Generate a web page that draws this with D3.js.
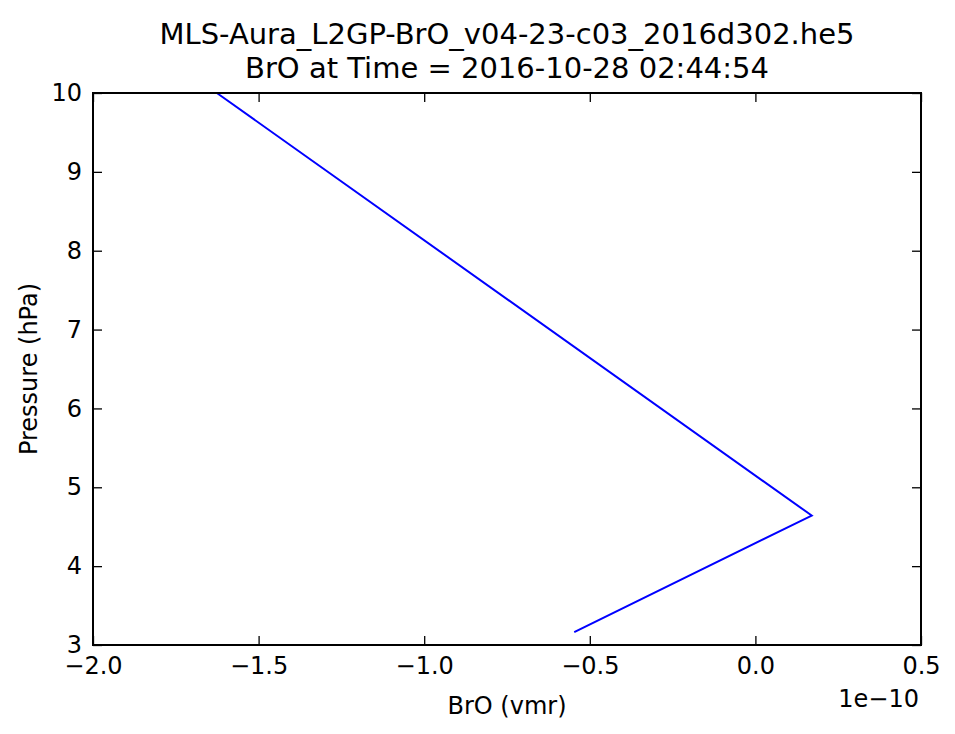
<!DOCTYPE html>
<html>
<head>
<meta charset="utf-8">
<script src="https://d3js.org/d3.v7.min.js"></script>
<style>
  body { margin: 0; background: #fff; }
  svg text { font-family: "DejaVu Sans", sans-serif; fill: #000; }
</style>
</head>
<body>
<div id="chart"></div>
<script>
// data
var pressure = [10, 4.6416, 3.1623];             // hPa
var bro = [-1.626e-10, 0.170e-10, -0.547e-10];   // vmr
var xTicks = [-2.0, -1.5, -1.0, -0.5, 0.0, 0.5]; // x 1e-10
var yTicks = [3, 4, 5, 6, 7, 8, 9, 10];
var titleLines = ["MLS-Aura_L2GP-BrO_v04-23-c03_2016d302.he5", "BrO at Time = 2016-10-28 02:44:54"];

var width = 955, height = 734;
var margin = {left: 93, right: 34, top: 93, bottom: 89};
var fs = 24;

var svg = d3.select('#chart')
  .append('svg')
  .attr('width', width)
  .attr('height', height);

var x_scale = d3.scaleLinear()
  .domain([-2.0e-10, 0.5e-10])
  .range([margin.left, width - margin.right]);

var y_scale = d3.scaleLinear()
  .domain([3, 10])
  .range([height - margin.bottom, margin.top]);

// the profile line
var line = d3.line()
  .x((d) => x_scale(d[0]))
  .y((d) => y_scale(d[1]));

var pts = bro.map((v, i) => [v, pressure[i]]);

svg.append('path')
  .datum(pts)
  .attr('d', line)
  .attr('fill', 'none')
  .attr('stroke', '#0000ff')
  .attr('stroke-width', 2);

// axes, ticks pointing inward like matplotlib classic
var tickLen = 9;
var xt = xTicks.map((t) => t * 1e-10);

svg.append('g')
  .attr('transform', 'translate(0,' + (height - margin.bottom) + ')')
  .call(d3.axisBottom(x_scale).tickValues(xt).tickSizeInner(-tickLen).tickSizeOuter(0)
    .tickPadding(12).tickFormat((d) => d3.format('.1f')(d / 1e-10).replace('-', '\u2212')));

svg.append('g')
  .attr('transform', 'translate(0,' + margin.top + ')')
  .call(d3.axisTop(x_scale).tickValues(xt).tickSizeInner(-tickLen).tickSizeOuter(0).tickFormat(''));

svg.append('g')
  .attr('transform', 'translate(' + margin.left + ',0)')
  .call(d3.axisLeft(y_scale).tickValues(yTicks).tickSizeInner(-tickLen).tickSizeOuter(0)
    .tickPadding(11).tickFormat(d3.format('d')));

svg.append('g')
  .attr('transform', 'translate(' + (width - margin.right) + ',0)')
  .call(d3.axisRight(y_scale).tickValues(yTicks).tickSizeInner(-tickLen).tickSizeOuter(0).tickFormat(''));

svg.selectAll('.domain').remove();
svg.selectAll('.tick line').attr('stroke', '#000').attr('stroke-width', 1.3);
svg.selectAll('.tick text').attr('font-size', fs).attr('fill', '#000');

// frame
svg.append('rect')
  .attr('x', margin.left)
  .attr('y', margin.top)
  .attr('width', width - margin.left - margin.right)
  .attr('height', height - margin.top - margin.bottom)
  .attr('fill', 'none')
  .attr('stroke', '#000')
  .attr('stroke-width', 2);

// offset label
svg.append('text')
  .text('1e\u221210')
  .attr('x', width - margin.right - 2)
  .attr('y', 707)
  .attr('font-size', fs)
  .attr('text-anchor', 'end');

// axis labels
svg.append('text')
  .text('BrO (vmr)')
  .attr('x', (margin.left + width - margin.right) / 2)
  .attr('y', 714)
  .attr('font-size', fs)
  .attr('text-anchor', 'middle');

svg.append('text')
  .text('Pressure (hPa)')
  .attr('transform', 'translate(37,' + (margin.top + height - margin.bottom) / 2 + ') rotate(-90)')
  .attr('font-size', fs)
  .attr('text-anchor', 'middle');

// title
svg.selectAll('.title')
  .data(titleLines)
  .enter()
  .append('text')
  .attr('class', 'title')
  .text((d) => d)
  .attr('x', (margin.left + width - margin.right) / 2)
  .attr('y', (d, i) => 44 + i * 34)
  .attr('font-size', 29)
  .attr('text-anchor', 'middle');
</script>
</body>
</html>
